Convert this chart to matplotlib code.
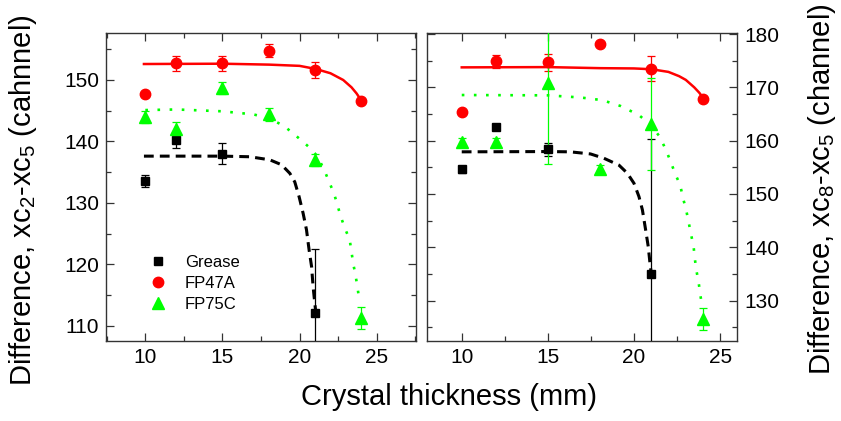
import matplotlib
matplotlib.use("Agg")
import matplotlib.pyplot as plt
from matplotlib.lines import Line2D
from matplotlib.ticker import MultipleLocator

plt.rcParams['font.family'] = ['Liberation Sans', 'DejaVu Sans']

# ---------------- data: left panel (xc2 - xc5) ----------------
thick = [10, 12, 15, 18, 21, 24]

grease_x_L = [10, 12, 15, 21]
grease_y_L = [133.6, 140.2, 138.0, 112.0]
grease_e_L = [1.0, 1.3, 1.7, 10.4]

fp47_x_L = [10, 12, 15, 18, 21, 24]
fp47_y_L = [147.7, 152.7, 152.7, 154.8, 151.6, 146.5]
fp47_e_L = [0.0, 1.2, 1.2, 1.05, 1.35, 0.0]

fp75_x_L = [10, 12, 15, 18, 21, 24]
fp75_y_L = [144.0, 142.1, 148.7, 144.4, 137.0, 111.3]
fp75_e_L = [1.0, 1.0, 1.0, 1.0, 1.0, 1.8]

# fitted curves
grease_fit_x_L = [9.91, 15.0, 16.77, 18.07, 18.83, 19.37, 19.69, 19.97, 20.23, 20.45, 20.62, 20.78, 20.88, 20.99, 21.04]
grease_fit_y_L = [137.6, 137.6, 137.5, 137.0, 136.2, 134.8, 133.4, 131.0, 128.3, 125.6, 122.3, 119.6, 116.3, 113.6, 112.5]

fp47_fit_x_L = [9.91, 15.0, 18.03, 20.0, 21.04, 22.0, 22.83, 23.37, 23.7, 24.02]
fp47_fit_y_L = [152.6, 152.65, 152.5, 152.3, 151.8, 151.1, 150.0, 148.8, 147.8, 146.6]

fp75_fit_x_L = [10.0, 12.0, 15.0, 17.0, 18.0, 19.0, 20.06, 20.6, 21.19, 21.69, 22.25, 22.68, 22.94, 23.25, 23.48, 23.63, 23.76, 23.87]
fp75_fit_y_L = [145.1, 145.2, 144.9, 144.4, 143.8, 142.5, 140.3, 139.1, 137.5, 134.8, 131.4, 127.7, 125.85, 124.0, 120.1, 118.2, 116.2, 114.2]

# ---------------- data: right panel (xc8 - xc5) ----------------
grease_x_R = [10, 12, 15, 21]
grease_y_R = [154.6, 162.6, 158.4, 134.9]
grease_e_R = [0.7, 0.0, 1.25, 25.4]

fp47_x_R = [10, 12, 15, 18, 21, 24]
fp47_y_R = [165.3, 174.9, 174.7, 178.1, 173.5, 167.9]
fp47_e_R = [0.0, 1.2, 1.6, 0.0, 2.35, 0.5]

fp75_x_R = [10, 12, 15, 18, 21, 24]
fp75_y_R = [159.7, 159.7, 170.9, 154.7, 163.1, 126.5]
fp75_e_R = [0.8, 0.8, 15.2, 0.8, 8.6, 2.1]

grease_fit_x_R = [10.0, 15.0, 16.3, 17.48, 18.25, 19.13, 19.61, 20.0, 20.29, 20.49, 20.68, 20.83, 20.93, 21.01]
grease_fit_y_R = [157.9, 157.95, 157.9, 157.5, 156.7, 155.4, 153.9, 152.0, 149.5, 147.0, 143.2, 140.1, 137.0, 134.9]

fp47_fit_x_R = [10.0, 15.0, 18.06, 20.0, 21.01, 22.0, 22.62, 23.01, 23.5, 23.79, 24.0]
fp47_fit_y_R = [173.75, 173.8, 173.6, 173.55, 173.4, 172.9, 172.1, 171.4, 170.0, 169.0, 168.1]

fp75_fit_x_R = [10.0, 15.01, 16.89, 18.16, 19.22, 20.29, 20.97, 21.46, 21.75, 21.94, 22.17, 22.43, 22.68, 22.85, 23.03, 23.17, 23.3, 23.46, 23.53, 23.61, 23.75, 23.84, 23.94]
fp75_fit_y_R = [168.56, 168.5, 168.1, 167.6, 166.5, 164.8, 162.9, 160.9, 159.0, 157.6, 155.7, 153.5, 151.7, 149.2, 147.0, 144.8, 142.6, 140.2, 138.0, 135.9, 133.5, 131.4, 129.2]

labels = ['Grease', 'FP47A', 'FP75C']
x_label = 'Crystal thickness (mm)'
y_label_L = r'Difference, xc$_\mathregular{2}$-xc$_\mathregular{5}$ (cahnnel)'
y_label_R = r'Difference, xc$_\mathregular{8}$-xc$_\mathregular{5}$ (channel)'

BLACK = '#000000'
RED = '#ff0000'
GREEN = '#00ff00'

W, H = 841, 421
fig = plt.figure(figsize=(W / 100, H / 100), dpi=100)

axL = fig.add_axes([106 / W, (H - 341) / H, 310 / W, 308 / H])
axR = fig.add_axes([427.3 / W, (H - 341) / H, 310 / W, 308 / H])


def draw(ax, gx, gy, ge, rx, ry, re, tx, ty, te, gfx, gfy, rfx, rfy, tfx, tfy):
    ax.plot(gfx, gfy, color=BLACK, lw=2.2, dashes=(3.2, 2.0), zorder=2)
    ax.plot(tfx, tfy, color=GREEN, lw=1.9, dashes=(1.0, 3.6), zorder=2)
    ax.plot(rfx, rfy, color=RED, lw=1.8, zorder=2)
    ax.errorbar(gx, gy, yerr=ge, fmt='s', color=BLACK, ms=6, capsize=3,
                elinewidth=0.9, capthick=0.9, zorder=3)
    ax.errorbar(rx, ry, yerr=re, fmt='o', color=RED, ms=7.5, capsize=3,
                elinewidth=0.9, capthick=0.9, zorder=3)
    ax.errorbar(tx, ty, yerr=te, fmt='^', color=GREEN, ms=8, capsize=3,
                elinewidth=0.9, capthick=0.9, zorder=3)


draw(axL, grease_x_L, grease_y_L, grease_e_L, fp47_x_L, fp47_y_L, fp47_e_L,
     fp75_x_L, fp75_y_L, fp75_e_L, grease_fit_x_L, grease_fit_y_L,
     fp47_fit_x_L, fp47_fit_y_L, fp75_fit_x_L, fp75_fit_y_L)
draw(axR, grease_x_R, grease_y_R, grease_e_R, fp47_x_R, fp47_y_R, fp47_e_R,
     fp75_x_R, fp75_y_R, fp75_e_R, grease_fit_x_R, grease_fit_y_R,
     fp47_fit_x_R, fp47_fit_y_R, fp75_fit_x_R, fp75_fit_y_R)

axL.set_xlim(7.45, 27.55)
axL.set_ylim(107.5, 157.65)
axR.set_xlim(8.0, 26.0)
axR.set_ylim(122.4, 180.2)

for ax in (axL, axR):
    ax.xaxis.set_major_locator(MultipleLocator(5))
    ax.xaxis.set_minor_locator(MultipleLocator(2.5))
    ax.yaxis.set_major_locator(MultipleLocator(10))
    ax.yaxis.set_minor_locator(MultipleLocator(5))
    ax.tick_params(which='both', direction='in', top=True, bottom=True,
                   left=True, right=True, width=0.9, colors='#333333',
                   labelcolor='black', labelsize=15, pad=5)
    ax.tick_params(which='major', length=6)
    ax.tick_params(which='minor', length=3.5)
    for s in ax.spines.values():
        s.set_color('#333333')
        s.set_linewidth(1.0)

axR.tick_params(which='both', labelleft=False, labelright=True)

fig.text(449 / W, 1 - 397 / H, x_label, fontsize=21, ha='center', va='center')
fig.text(23 / W, 1 - 200 / H, y_label_L, fontsize=21, rotation=90,
         ha='center', va='center')
fig.text(822 / W, 1 - 189 / H, y_label_R, fontsize=21, rotation=90,
         ha='center', va='center')

handles = [
    Line2D([], [], ls='none', marker='s', color=BLACK, ms=6),
    Line2D([], [], ls='none', marker='o', color=RED, ms=7.5),
    Line2D([], [], ls='none', marker='^', color=GREEN, ms=8),
]
axL.legend(handles, labels, loc='upper left',
           bbox_to_anchor=((150 - 106) / 310, (341 - 255) / 308),
           frameon=False, fontsize=12, handlelength=1.0, handletextpad=1.1,
           labelspacing=0.35, borderpad=0, borderaxespad=0)

fig.savefig('out.png', dpi=100)
